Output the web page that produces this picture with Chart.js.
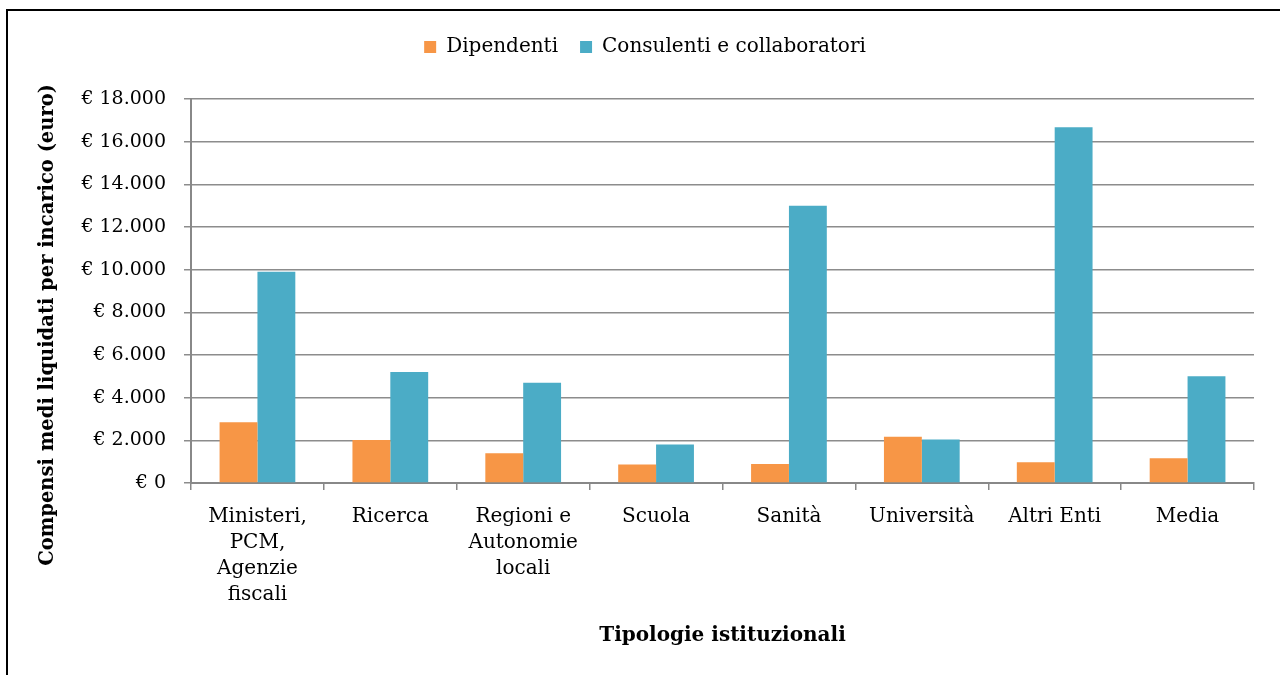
<!DOCTYPE html>
<html>
<head>
<meta charset="utf-8">
<script src="https://cdn.jsdelivr.net/npm/chart.js@4"></script>
<style>
  html, body { margin: 0; padding: 0; background: #fff; }
  #wrap { position: relative; width: 1280px; height: 675px; overflow: hidden; }
  #frame { position: absolute; left: 6px; top: 9px; width: 1300px; height: 700px; border: 2px solid #000; box-sizing: border-box; }
  canvas { position: absolute; left: 0; top: 0; }
</style>
</head>
<body>
<div id="wrap">
  <div id="frame"></div>
  <canvas id="myChart" width="1280" height="675"></canvas>
</div>
<script>
const categories = [
  ['Ministeri,', 'PCM,', 'Agenzie', 'fiscali'],
  'Ricerca',
  ['Regioni e', 'Autonomie', 'locali'],
  'Scuola',
  'Sanità',
  'Università',
  'Altri Enti',
  'Media'
];
const dipendenti = [2850, 2020, 1400, 870, 890, 2170, 970, 1160];
const consulenti = [9900, 5200, 4700, 1810, 13000, 2040, 16680, 5000];
const yTicks = [0, 2000, 4000, 6000, 8000, 10000, 12000, 14000, 16000, 18000];

// extra room under the legend
const legendGap = {
  id: 'legendGap',
  beforeInit(chart) {
    const fit = chart.legend.fit;
    chart.legend.fit = function () {
      fit.bind(chart.legend)();
      this.height += 32;
    };
  }
};

document.addEventListener('DOMContentLoaded', () => {
  const ctx = document.getElementById('myChart');
  Chart.defaults.font.family = 'DejaVu Serif';
  Chart.defaults.color = '#000';

  const barProps = {
    categoryPercentage: 0.57,
    barPercentage: 1.0,
    borderWidth: 0
  };

  const config = {
    type: 'bar',
    data: {
      labels: categories,
      datasets: [
        { label: 'Dipendenti', data: dipendenti, backgroundColor: '#F79646', ...barProps },
        { label: 'Consulenti e collaboratori', data: consulenti, backgroundColor: '#4BACC6', ...barProps }
      ]
    },
    options: {
      responsive: false,
      animation: false,
      layout: { padding: { left: 36, right: 26, top: 15, bottom: 23 } },
      plugins: {
        legend: {
          position: 'top',
          labels: { boxWidth: 12, boxHeight: 12, padding: 22, font: { size: 20 } }
        },
        tooltip: { enabled: false }
      },
      scales: {
        x: {
          grid: { offset: true, drawOnChartArea: false, color: '#888', lineWidth: 1.5, tickLength: 7 },
          border: { color: '#888', width: 2 },
          ticks: { font: { size: 20, lineHeight: 1.3 }, maxRotation: 0, autoSkip: false, padding: 14 },
          title: {
            display: true, text: 'Tipologie istituzionali',
            font: { size: 20, weight: 'bold' }, padding: { top: 2, bottom: 4 }
          }
        },
        y: {
          min: 0, max: 18000,
          afterBuildTicks: axis => { axis.ticks = yTicks.map(v => ({ value: v })); },
          grid: { color: '#8c8c8c', lineWidth: 1.5, tickLength: 7 },
          border: { color: '#888', width: 2 },
          ticks: {
            font: { size: 19 },
            padding: 18,
            callback: v => '€ ' + v.toLocaleString('it-IT').replace(/\s/g, '.')
          },
          title: {
            display: true,
            // trailing spaces push the rotated title a little lower, as in the original
            text: 'Compensi medi liquidati per incarico (euro)' + '\u00a0'.repeat(10),
            font: { size: 19.5, weight: 'bold' }, padding: { top: 0, bottom: 4 }
          }
        }
      }
    },
    plugins: [legendGap]
  };
  new Chart(ctx, config);
});
</script>
</body>
</html>
